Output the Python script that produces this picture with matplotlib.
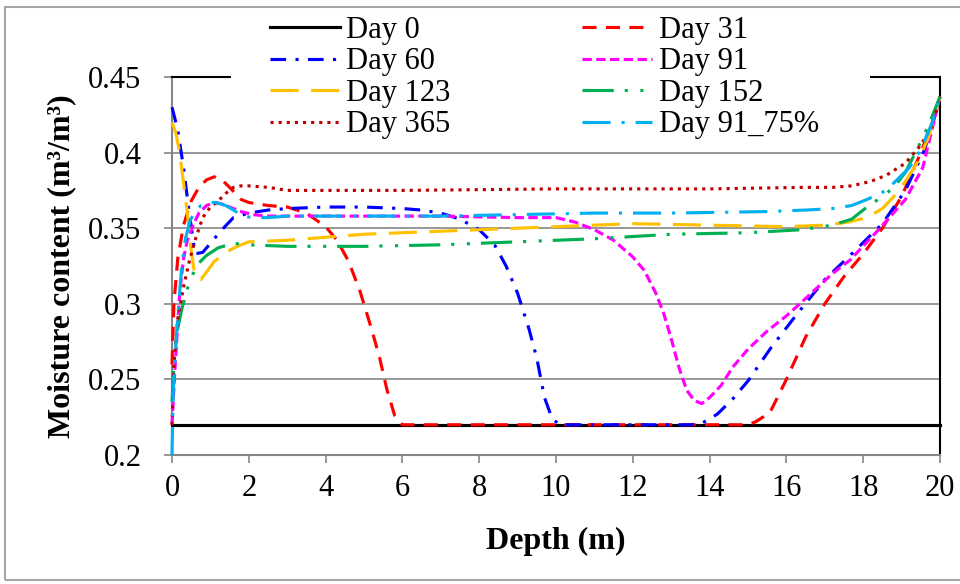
import matplotlib
matplotlib.use("Agg")
import matplotlib.pyplot as plt
from matplotlib.patches import Rectangle

# Depth (m) and moisture content (m3/m3)
depth_d0 = [0, 20]
theta_d0 = [0.22, 0.22]

depth_d31 = [0, 0.05, 0.15, 0.3, 0.5, 0.7, 0.9, 1.1, 1.3, 1.5, 1.8, 2.0, 2.5, 3.0, 3.5,
             4.0, 4.3, 4.6, 4.9, 5.2, 5.4, 5.6, 5.8, 6.0, 10, 15.0, 15.2, 15.57, 16.0,
             16.5, 17.0, 17.5, 18.0, 18.5, 19.0, 19.5, 19.8, 20]
theta_d31 = [0.26, 0.30, 0.33, 0.352, 0.368, 0.377, 0.382, 0.384, 0.382, 0.377, 0.369,
             0.367, 0.365, 0.364, 0.360, 0.351, 0.342, 0.328, 0.308, 0.283, 0.265, 0.243,
             0.226, 0.22, 0.22, 0.22, 0.222, 0.228, 0.25, 0.278, 0.300, 0.318, 0.333,
             0.35, 0.371, 0.40, 0.42, 0.437]

depth_d60 = [0, 0.15, 0.3, 0.45, 0.6, 0.8, 1.0, 1.3, 1.6, 2.0, 2.5, 3, 4, 5, 6, 6.5, 7,
             7.5, 8.0, 8.4, 8.7, 9.0, 9.3, 9.5, 9.7, 9.9, 10.1, 12, 13.5, 13.8, 14.2,
             14.6, 15.0, 15.6, 16.3, 17.0, 17.7, 18.5, 19.1, 19.6, 20]
theta_d60 = [0.43, 0.415, 0.39, 0.36, 0.333, 0.334, 0.34, 0.349, 0.357, 0.360, 0.362,
             0.363, 0.364, 0.364, 0.363, 0.362, 0.360, 0.356, 0.349, 0.339, 0.325, 0.307,
             0.283, 0.264, 0.238, 0.224, 0.22, 0.22, 0.22, 0.221, 0.227, 0.237, 0.249,
             0.271, 0.294, 0.316, 0.333, 0.353, 0.375, 0.402, 0.437]

depth_d91 = [0, 0.05, 0.12, 0.2, 0.3, 0.4, 0.55, 0.7, 0.9, 1.1, 1.3, 1.5, 1.8, 2.1, 2.5,
             3, 5, 7, 9, 10, 10.5, 11, 11.5, 12, 12.3, 12.6, 12.8, 13.0, 13.2, 13.4,
             13.6, 13.8, 14.0, 14.3, 14.6, 15.0, 15.5, 16.0, 16.35, 17.2, 17.66, 18.4,
             19.1, 19.55, 20]
theta_d91 = [0.22, 0.245, 0.275, 0.307, 0.33, 0.342, 0.352, 0.36, 0.365, 0.367, 0.366,
             0.364, 0.361, 0.359, 0.358, 0.358, 0.358, 0.358, 0.357, 0.357, 0.354, 0.349,
             0.342, 0.331, 0.322, 0.307, 0.294, 0.277, 0.258, 0.243, 0.236, 0.234, 0.238,
             0.246, 0.258, 0.27, 0.282, 0.292, 0.300, 0.320, 0.329, 0.349, 0.369, 0.39,
             0.437]

depth_d123 = [0, 0.1, 0.2, 0.3, 0.4, 0.5, 0.6, 0.75, 0.9, 1.1, 1.4, 1.7, 2.0, 3, 4, 5, 6,
              8, 10, 12, 14, 16, 17, 17.6, 18.1, 18.5, 18.8, 19.1, 19.4, 19.7, 20]
theta_d123 = [0.42, 0.413, 0.4, 0.38, 0.36, 0.335, 0.318, 0.316, 0.321, 0.328, 0.334,
              0.338, 0.341, 0.342, 0.344, 0.346, 0.347, 0.349, 0.351, 0.353, 0.352, 0.351,
              0.352, 0.354, 0.357, 0.363, 0.371, 0.381, 0.393, 0.41, 0.437]

depth_d152 = [0, 0.05, 0.12, 0.25, 0.4, 0.55, 0.7, 0.9, 1.2, 1.6, 2, 3, 5, 7, 9, 11, 13,
              15, 16.4, 17.2, 17.7, 18.1, 18.5, 18.8, 19.1, 19.4, 19.7, 20]
theta_d152 = [0.235, 0.26, 0.28, 0.296, 0.31, 0.32, 0.327, 0.332, 0.337, 0.34, 0.339,
              0.338, 0.338, 0.339, 0.341, 0.343, 0.346, 0.347, 0.349, 0.352, 0.356, 0.364,
              0.371, 0.377, 0.387, 0.402, 0.418, 0.437]

depth_d365 = [0, 0.05, 0.15, 0.3, 0.45, 0.6, 0.8, 1.0, 1.2, 1.4, 1.6, 1.8, 2.0, 2.5, 3, 4,
              6, 10, 14, 16.4, 17.2, 17.7, 18.2, 18.6, 19.1, 19.5, 19.8, 20]
theta_d365 = [0.22, 0.26, 0.29, 0.311, 0.328, 0.342, 0.357, 0.364, 0.368, 0.373, 0.377,
              0.378, 0.378, 0.377, 0.375, 0.375, 0.375, 0.376, 0.376, 0.377, 0.377, 0.378,
              0.381, 0.385, 0.393, 0.405, 0.418, 0.437]

depth_d91_75 = [0, 0.03, 0.12, 0.25, 0.35, 0.47, 0.6, 0.75, 0.95, 1.15, 1.4, 1.6, 1.85,
                2.1, 2.5, 3, 5, 7, 9, 11, 13, 15.5, 16.5, 17.2, 17.7, 18.1, 18.6, 19.2,
                19.5, 19.8, 20]
theta_d91_75 = [0.2, 0.241, 0.281, 0.324, 0.343, 0.355, 0.361, 0.365, 0.367, 0.367, 0.365,
                0.362, 0.358, 0.357, 0.357, 0.358, 0.358, 0.358, 0.359, 0.360, 0.360,
                0.361, 0.362, 0.363, 0.365, 0.369, 0.375, 0.39, 0.402, 0.42, 0.437]

x_ticks = list(range(0, 21, 2))
y_ticks = [0.2, 0.25, 0.3, 0.35, 0.4, 0.45]
y_tick_labels = ["0.2", "0.25", "0.3", "0.35", "0.4", "0.45"]

plt.rcParams["font.family"] = ["Liberation Serif", "DejaVu Serif"]

fig = plt.figure(figsize=(9.6, 5.84), dpi=100)
ax = fig.add_axes([172 / 960, 1 - 455 / 584, 768 / 960, 378 / 584])

lw = 2.25
series = [
    ("Day 0", depth_d0, theta_d0, "black", "-"),
    ("Day 31", depth_d31, theta_d31, "#FF0000", (0, (4.5, 3))),
    ("Day 60", depth_d60, theta_d60, "#0000FF", (0, (5, 3, 1, 3))),
    ("Day 91", depth_d91, theta_d91, "#FF00FF", (0, (3, 1.4))),
    ("Day 123", depth_d123, theta_d123, "#FFC000", (0, (9, 4))),
    ("Day 152", depth_d152, theta_d152, "#00B050", (0, (10, 3.5, 1, 4, 1, 3.5))),
    ("Day 365", depth_d365, theta_d365, "#C00000", (0, (1, 1.6))),
    ("Day 91_75%", depth_d91_75, theta_d91_75, "#00B0F0", (0, (9, 3.5, 1, 3.5))),
]
for label, xs, ys, color, ls in series:
    ax.plot(xs, ys, color=color, linestyle=ls, linewidth=lw, label=label,
            clip_on=False, zorder=3)

ax.set_xlim(0, 20)
ax.set_ylim(0.2, 0.45)
ax.set_xticks(x_ticks)
ax.set_yticks(y_ticks)
ax.set_yticklabels(y_tick_labels)
ax.grid(axis="y", color="#868686", linewidth=1.2)
ax.set_axisbelow(True)

for side in ["left", "bottom"]:
    ax.spines[side].set_color("#868686")
    ax.spines[side].set_linewidth(1.5)
for side in ["top", "right"]:
    ax.spines[side].set_color("black")
    ax.spines[side].set_linewidth(1.5)
ax.tick_params(axis="both", direction="out", length=6, width=1.2, color="#868686",
               labelsize=22)
ax.tick_params(axis="y", pad=16)
ax.tick_params(axis="x", pad=8)

ax.set_xlabel("Depth (m)", fontsize=23, fontweight="bold")
ax.set_ylabel("Moisture content (m³/m³)", fontsize=23, fontweight="bold")
ax.xaxis.set_label_coords(0.5, -0.19)
ax.yaxis.set_label_coords(-0.125, 0.5)

# white legend area covers the top border
fig.add_artist(Rectangle((231 / 960, 1 - 142 / 584), 639 / 960, 133 / 584,
                         transform=fig.transFigure, facecolor="white",
                         edgecolor="none", zorder=4))
handles, labels = ax.get_legend_handles_labels()
# legend is filled row by row: Day 0 | Day 31, Day 60 | Day 91, ...
order = [0, 2, 4, 6, 1, 3, 5, 7]
fig.legend([handles[i] for i in order], [labels[i] for i in order], ncol=2,
           loc="upper left", bbox_to_anchor=(270 / 960, 1 - 16 / 584), frameon=False,
           fontsize=22, handlelength=2.3, handletextpad=0.2, columnspacing=4.3,
           labelspacing=0.08, borderpad=0, borderaxespad=0)

# outer chart border
fig.add_artist(Rectangle((5 / 960, 1 - 580 / 584), 960 / 960, 573 / 584,
                         transform=fig.transFigure, facecolor="none",
                         edgecolor="#A6A6A6", linewidth=1.5, zorder=6))

fig.savefig("out.png", dpi=100)
